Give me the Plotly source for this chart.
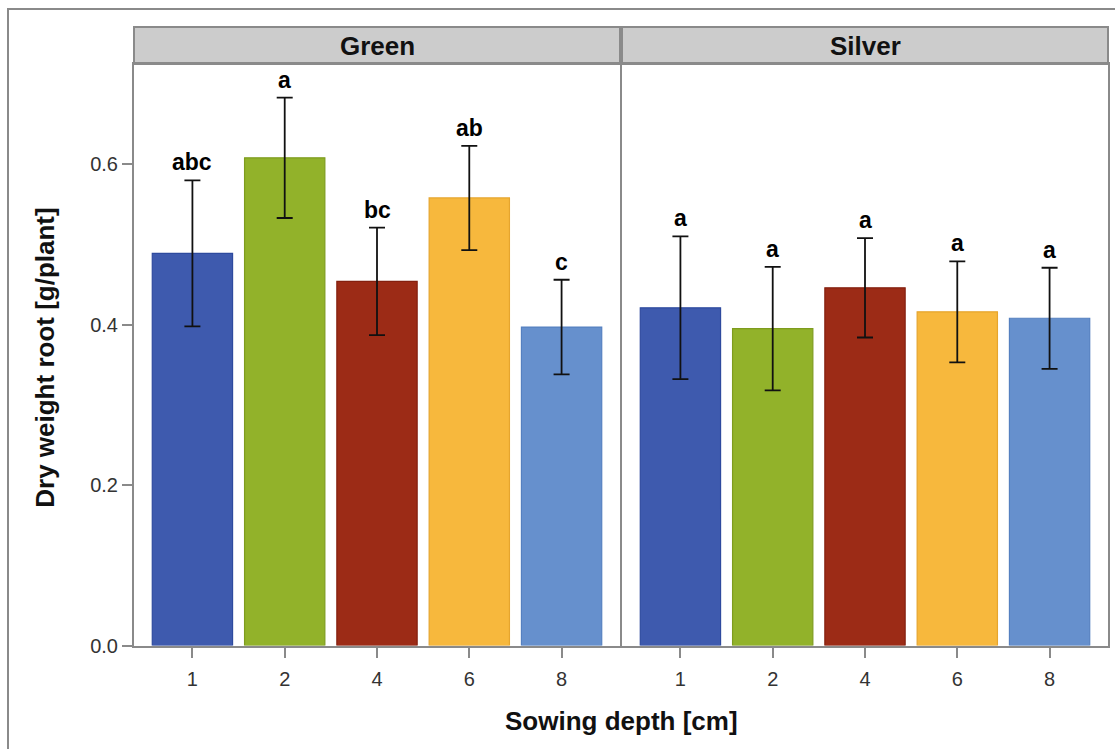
import plotly.graph_objects as go

# Sowing depth categories and root dry weight per variety
depths = ["1", "2", "4", "6", "8"]
varieties = ["Green", "Silver"]

green_mean = [0.489, 0.608, 0.454, 0.558, 0.397]
green_err = [0.091, 0.075, 0.067, 0.065, 0.059]
green_letters = ["abc", "a", "bc", "ab", "c"]

silver_mean = [0.421, 0.395, 0.446, 0.416, 0.408]
silver_err = [0.089, 0.077, 0.062, 0.063, 0.063]
silver_letters = ["a", "a", "a", "a", "a"]

y_ticks = [0.0, 0.2, 0.4, 0.6]

bar_colors = ["#3E5AAE", "#92B22A", "#9C2B16", "#F7B83D", "#6690CD"]
bar_edges = ["#2E4A9E", "#7E9C1E", "#84200F", "#E6A52E", "#5580C0"]

W, H = 1115, 749
FONT = "Liberation Sans, Arial, sans-serif"
FRAME = "#8A8A8A"
TITLE_SIZE = 26

# panel geometry in pixels
panels = [(134, 620), (622, 1108)]
plot_top, plot_bottom = 64, 645.5
strip_top = 27


def px_x(v):
    return v / W


def px_y(v):
    return 1 - v / H


fig = go.Figure()

series = [(green_mean, green_err, green_letters), (silver_mean, silver_err, silver_letters)]
for i, (means, errs, letters) in enumerate(series):
    ax = "" if i == 0 else str(i + 1)
    fig.add_trace(go.Bar(
        x=depths, y=means,
        width=0.87,
        marker=dict(color=bar_colors, line=dict(color=bar_edges, width=1.2)),
        error_y=dict(type="data", array=errs, visible=True, color="#111111",
                     thickness=1.8, width=8),
        xaxis="x" + ax, yaxis="y" + ax,
        showlegend=False, hoverinfo="skip",
    ))
    # significance letters above the error bars (category index as x)
    for k, (m, e, t) in enumerate(zip(means, errs, letters)):
        fig.add_annotation(
            x=k, y=m + e, xref="x" + ax, yref="y" + ax,
            text="<b>" + t + "</b>", showarrow=False,
            xanchor="center", yanchor="bottom", yshift=3,
            font=dict(family=FONT, size=23, color="#000000"),
        )

axis_common = dict(
    showgrid=False, zeroline=False, automargin=False,
    showline=True, linecolor=FRAME, linewidth=2, mirror=True,
    ticks="outside", ticklen=10, tickwidth=1.5, tickcolor=FRAME,
    tickfont=dict(family=FONT, size=20, color="#333333"),
)

ydom = [px_y(plot_bottom), px_y(plot_top)]
layout = dict(
    width=W, height=H,
    margin=dict(l=0, r=0, t=0, b=0),
    paper_bgcolor="white", plot_bgcolor="white",
)
for i, (x0, x1) in enumerate(panels):
    suf = "" if i == 0 else str(i + 1)
    layout["xaxis" + suf] = dict(
        axis_common, domain=[px_x(x0), px_x(x1)], type="category",
        range=[-0.633, 4.633], anchor="y" + suf, ticklabelstandoff=4,
    )
    ydict = dict(
        axis_common, domain=ydom, range=[0, 0.725], anchor="x" + suf,
        tickvals=y_ticks, ticktext=[f"{v:.1f}" for v in y_ticks],
    )
    if i > 0:
        ydict["showticklabels"] = False
        ydict["ticks"] = ""
        ydict["matches"] = "y"
    layout["yaxis" + suf] = ydict

fig.update_layout(**layout)

# panel strips with variety names
for (x0, x1), name in zip(panels, varieties):
    fig.add_shape(type="rect", xref="paper", yref="paper",
                  x0=px_x(x0), x1=px_x(x1), y0=px_y(plot_top), y1=px_y(strip_top),
                  fillcolor="#CCCCCC", line=dict(color=FRAME, width=2), layer="below")
    fig.add_annotation(x=px_x((x0 + x1) / 2), y=px_y((strip_top + plot_top) / 2 + 1),
                       xref="paper", yref="paper", showarrow=False,
                       xanchor="center", yanchor="middle",
                       text="<b>" + name + "</b>",
                       font=dict(family=FONT, size=TITLE_SIZE, color="#111111"))

# shared x-axis title
fig.add_annotation(x=px_x((panels[0][0] + panels[1][1]) / 2), y=px_y(721),
                   xref="paper", yref="paper", showarrow=False,
                   xanchor="center", yanchor="middle",
                   text="<b>Sowing depth [cm]</b>",
                   font=dict(family=FONT, size=TITLE_SIZE, color="#111111"))

# y-axis title
fig.add_annotation(x=px_x(45), y=px_y((plot_top + plot_bottom) / 2 + 3),
                   xref="paper", yref="paper", showarrow=False, textangle=-90,
                   xanchor="center", yanchor="middle",
                   text="<b>Dry weight root [g/plant]</b>",
                   font=dict(family=FONT, size=TITLE_SIZE, color="#111111"))

# outer frame around the graphic
fig.add_shape(type="rect", xref="paper", yref="paper",
              x0=px_x(8), x1=1.05, y0=-0.05, y1=px_y(9),
              line=dict(color=FRAME, width=2), fillcolor="rgba(0,0,0,0)")

fig.write_html("out.html")
